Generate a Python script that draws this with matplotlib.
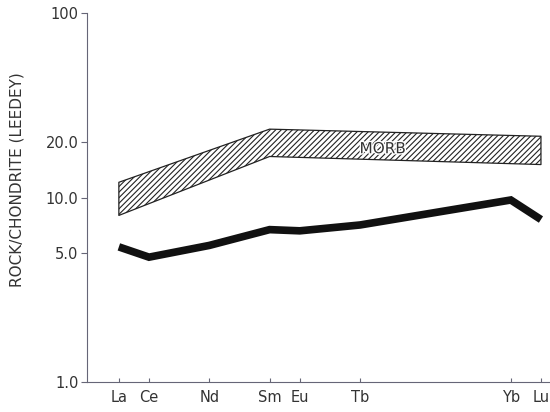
import matplotlib
matplotlib.use("Agg")
import matplotlib.pyplot as plt
import matplotlib.patheffects as pe
from matplotlib.ticker import FixedLocator, FixedFormatter, NullLocator

# Data
elements = ["La", "Ce", "Nd", "Sm", "Eu", "Tb", "Yb", "Lu"]
atomic_numbers = [57, 58, 60, 62, 63, 65, 70, 71]
rock_values = [5.4, 4.75, 5.5, 6.7, 6.6, 7.1, 9.7, 7.6]

morb_x = [57, 62, 71]
morb_top = [12.1, 23.5, 21.5]
morb_bottom = [8.0, 16.7, 15.1]

ytick_values = [1.0, 5.0, 10.0, 20.0, 100.0]
ytick_labels = ["1.0", "5.0", "10.0", "20.0", "100"]

plt.rcParams['hatch.linewidth'] = 0.8
txt_color = "#333333"

fig = plt.figure(figsize=(5.5, 4.12), dpi=100)
ax = fig.add_axes([0.158, 0.073, 0.842, 0.895])

ax.fill_between(morb_x, morb_bottom, morb_top, facecolor="white",
                edgecolor="#222222", hatch="//////", linewidth=0.9)
ax.text(65.75, 18.4, "MORB", fontsize=11, color=txt_color, ha="center",
        va="center",
        path_effects=[pe.withStroke(linewidth=2.0, foreground="white")])

ax.plot(atomic_numbers, rock_values, color="#111111", lw=5.5,
        solid_joinstyle="miter", solid_capstyle="butt")

ax.set_yscale("log")
ax.set_ylim(1.0, 100.0)
ax.set_xlim(55.94, 71.3)

ax.yaxis.set_major_locator(FixedLocator(ytick_values))
ax.yaxis.set_major_formatter(FixedFormatter(ytick_labels))
ax.yaxis.set_minor_locator(NullLocator())
ax.set_xticks(atomic_numbers)
ax.set_xticklabels(elements)

for s in ["top", "right"]:
    ax.spines[s].set_visible(False)
for s in ["left", "bottom"]:
    ax.spines[s].set_color("#666677")
    ax.spines[s].set_linewidth(0.8)

ax.tick_params(axis="y", direction="out", length=4, width=0.8,
               color="#666677", labelsize=10.5, labelcolor=txt_color, pad=2)
ax.tick_params(axis="x", direction="in", length=3, width=0.8,
               color="#666677", labelsize=10.5, labelcolor=txt_color, pad=6)

ax.set_ylabel("ROCK/CHONDRITE (LEEDEY)", fontsize=11, color=txt_color)
ax.yaxis.set_label_coords(-0.134, 0.548)

fig.savefig("out.png", dpi=100)
